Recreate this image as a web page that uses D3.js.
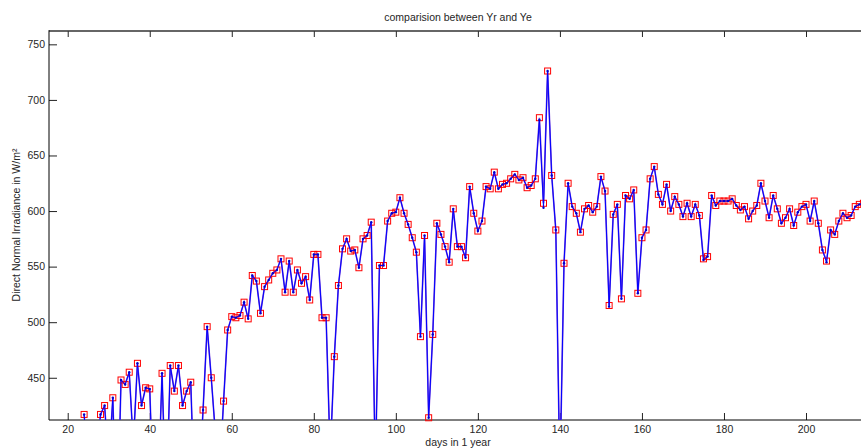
<!DOCTYPE html>
<html><head><meta charset="utf-8">
<script src="https://cdn.jsdelivr.net/npm/d3@7"></script>
<style>
body{margin:0;background:#fff}
svg{display:block}
text{font-family:"Liberation Sans",Arial,Helvetica,sans-serif}
</style>
</head><body>
<svg id="c" width="861" height="448"></svg>
<script>
const days = [24,25,26,27,28,29,30,31,32,33,34,35,36,37,38,39,40,41,42,43,44,45,46,47,48,49,
50,51,52,53,54,55,56,57,58,59,60,61,62,63,64,65,66,67,68,69,70,71,72,73,74,75,76,77,78,79,
80,81,82,83,84,85,86,87,88,89,90,91,92,93,94,95,96,97,98,99,100,101,102,103,104,105,106,107,108,109,
110,111,112,113,114,115,116,117,118,119,120,121,122,123,124,125,126,127,128,129,130,131,132,133,134,135,136,137,138,139,
140,141,142,143,144,145,146,147,148,149,150,151,152,153,154,155,156,157,158,159,160,161,162,163,164,165,166,167,168,169,
170,171,172,173,174,175,176,177,178,179,180,181,182,183,184,185,186,187,188,189,190,191,192,193,194,195,196,197,198,199,
200,201,202,203,204,205,206,207,208,209,210,211,212,213,214];

// Ye (red squares)
const ye = [417,370,350,380,417,425,370,432,300,448,444,455,390,463,425,441,440,330,340,454,330,461,438,461,425,438,
446,330,350,421,496,450,400,360,429,493,505,504,506,518,503,542,537,508,532,538,544,547,557,527,555,527,547,535,541,520,
561,561,504,504,380,469,533,566,575,564,565,549,575,578,590,365,551,551,591,598,599,612,598,588,576,563,487,578,414,489,
589,579,568,554,602,568,568,558,622,598,582,591,622,620,635,620,624,625,629,633,628,630,621,623,629,684,607,726,632,583,
360,553,625,604,598,581,602,605,599,604,631,618,515,597,606,521,614,611,619,526,576,583,629,640,615,606,624,600,613,606,
595,607,595,606,596,557,559,614,605,609,609,609,611,605,601,604,593,600,605,625,609,594,614,602,589,594,602,587,599,604,
606,591,609,589,565,555,583,579,591,598,594,596,604,606,607];

// Yr (blue line)
const yr = [417,370,350,380,417,425,370,432,300,448,444,455,390,463,425,441,440,330,340,454,330,461,438,461,425,438,
446,330,350,421,496,450,400,360,429,493,505,504,506,518,503,542,537,508,532,538,544,547,557,527,555,527,547,535,541,520,
561,561,504,504,380,469,533,566,575,564,565,549,575,578,590,365,551,551,591,598,599,612,598,588,576,563,487,578,414,489,
589,579,568,554,602,568,568,558,622,598,582,591,622,620,635,620,624,625,629,633,628,630,621,623,629,682,603,726,632,583,
360,553,625,604,598,581,602,605,599,604,631,618,514,597,606,521,614,611,619,526,576,583,629,640,615,606,624,600,613,606,
595,607,595,606,596,556,559,614,605,609,609,609,611,605,601,604,593,600,605,625,609,594,614,602,589,594,602,587,599,604,
606,591,609,589,565,554,583,579,591,598,594,596,604,606,607];

const xTicks = [20,40,60,80,100,120,140,160,180,200];
const yTicks = [450,500,550,600,650,700,750];
const titleText = "comparision between Yr and Ye";
const xLabelText = "days in 1 year";
const yLabelText = "Direct Normal Irradiance in W/m²";

const L = 49, T = 31, B = 420, R = 49 + 840;
const x = d3.scaleLinear().domain([15.44, 15.44 + 840 / 4.1017]).range([L, R]);
const y = d3.scaleLinear().domain([412, 762]).range([B, T]);

const svg = d3.select("#c");
svg.append("defs").append("clipPath").attr("id", "clip")
  .append("rect").attr("x", L).attr("y", T).attr("width", R - L).attr("height", B - T);

const fs = "10.5px", tc = "#262626";

// axes
const gl = svg.append("g").attr("transform", `translate(${L},0)`)
  .call(d3.axisLeft(y).tickValues(yTicks).tickSizeInner(-8).tickSizeOuter(0).tickPadding(4));
const gb = svg.append("g").attr("transform", `translate(0,${B})`)
  .call(d3.axisBottom(x).tickValues(xTicks).tickSizeInner(-7).tickSizeOuter(0).tickPadding(6));
const gt = svg.append("g").attr("transform", `translate(0,${T})`)
  .call(d3.axisTop(x).tickValues(xTicks).tickSizeInner(-6).tickSizeOuter(0).tickFormat(""));
[gl, gb, gt].forEach(g => {
  g.select(".domain").remove();
  g.selectAll(".tick line").attr("stroke", "#222");
  g.selectAll("text").attr("font-size", fs).attr("fill", tc).style("font-family", '"Liberation Sans",Arial,sans-serif');
});

// box
svg.append("line").attr("x1", L).attr("x2", R).attr("y1", T).attr("y2", T).attr("stroke", "#333").attr("stroke-width", 1.6);
svg.append("line").attr("x1", L).attr("x2", L).attr("y1", T - 0.8).attr("y2", B).attr("stroke", "#000");
svg.append("line").attr("x1", L).attr("x2", R).attr("y1", B).attr("y2", B).attr("stroke", "#000");

const dataRed = days.map((d, i) => ({d, v: ye[i]}));
const dataBlue = days.map((d, i) => ({d, v: yr[i]}));
const line = d3.line().x(p => x(p.d)).y(p => y(p.v));

const plot = svg.append("g");
plot.append("path").datum(dataRed).attr("clip-path", "url(#clip)")
  .attr("fill", "none").attr("stroke", "#7a44d8").attr("stroke-width", 1.6).attr("d", line);

const vis = p => p.v >= 412 && p.v <= 762;
plot.selectAll("rect.sq").data(dataRed.filter(vis)).enter().append("rect")
  .attr("class", "sq")
  .attr("x", p => x(p.d) - 3).attr("y", p => y(p.v) - 3)
  .attr("width", 6).attr("height", 6)
  .attr("fill", "none").attr("stroke", "#ff0000").attr("stroke-width", 1);

plot.append("path").datum(dataBlue).attr("clip-path", "url(#clip)")
  .attr("fill", "none").attr("stroke", "#0000ff").attr("stroke-width", 1).attr("d", line);
plot.selectAll("circle.dot").data(dataBlue.filter(vis)).enter().append("circle")
  .attr("class", "dot")
  .attr("cx", p => x(p.d)).attr("cy", p => y(p.v)).attr("r", 1.2)
  .attr("fill", "#0000cc");

// texts
svg.append("text").attr("x", 458).attr("y", 21).attr("text-anchor", "middle")
  .attr("font-size", fs).attr("fill", tc).text(titleText);
svg.append("text").attr("x", 458).attr("y", 446).attr("text-anchor", "middle")
  .attr("font-size", fs).attr("fill", tc).text(xLabelText);
svg.append("text").attr("transform", "translate(20,225) rotate(-90)").attr("text-anchor", "middle")
  .attr("font-size", fs).attr("fill", tc).text(yLabelText);
</script>
</body></html>
